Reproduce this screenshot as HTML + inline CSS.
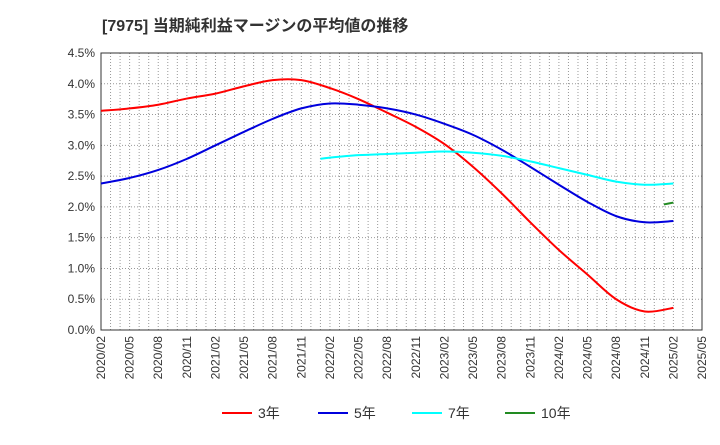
<!DOCTYPE html>
<html><head><meta charset="utf-8"><style>
body{margin:0;background:#fff;font-family:"Liberation Sans","Noto Sans CJK JP",sans-serif}
</style></head><body>
<svg width="720" height="440" xmlns="http://www.w3.org/2000/svg" id="c" style="font-family:'Liberation Sans','Noto Sans CJK JP',sans-serif">
<text x="102" y="31" font-size="16" font-weight="bold" fill="#333">[7975]  当期純利益マージンの平均値の推移</text>
</svg>
<script>
const xLabels=["2020/02","2020/05","2020/08","2020/11","2021/02","2021/05","2021/08","2021/11","2022/02","2022/05","2022/08","2022/11","2023/02","2023/05","2023/08","2023/11","2024/02","2024/05","2024/08","2024/11","2025/02","2025/05"];
const yTicks=[0,0.5,1,1.5,2,2.5,3,3.5,4,4.5];
const q=[0,3,6,9,12,15,18,21,24,27,30,33,36,39,42,45,48,51,54,57,60];
const s3=[3.56,3.60,3.66,3.76,3.84,3.96,4.06,4.06,3.93,3.75,3.53,3.30,3.02,2.65,2.22,1.75,1.30,0.90,0.50,0.30,0.36];
const s5=[2.38,2.47,2.60,2.78,3.00,3.22,3.43,3.60,3.68,3.66,3.60,3.50,3.35,3.17,2.93,2.65,2.36,2.08,1.85,1.75,1.77];
const m7=[23,24,27,30,33,36,39,42,45,48,51,54,57,60];
const s7=[2.78,2.80,2.84,2.86,2.88,2.90,2.88,2.83,2.74,2.63,2.52,2.41,2.36,2.38];
const m10=[59,60];
const s10=[2.04,2.07];
const L=101,R=702,T=53,B=330;
const X=m=>L+m*(R-L)/63, Y=v=>B-v/4.5*(B-T);
const svg=document.getElementById('c'),NS="http://www.w3.org/2000/svg";
function mk(t,a,txt){const e=document.createElementNS(NS,t);for(const k in a)e.setAttribute(k,a[k]);if(txt!=null)e.textContent=txt;svg.appendChild(e);return e;}
for(let m=1;m<63;m++){const e=mk('line',{x1:X(m),x2:X(m),y1:T,y2:B,stroke:'#999','stroke-dasharray':'1,2','stroke-width':1});

}
yTicks.forEach(v=>{const e=mk('line',{x1:L,x2:R,y1:Y(v),y2:Y(v),stroke:'#999','stroke-dasharray':'1,2'});


const t=mk('text',{x:L-6,y:Y(v)+4,'text-anchor':'end','font-size':12,fill:'#333'},v.toFixed(1)+'%');

});
const fr=mk('rect',{x:L,y:T,width:R-L,height:B-T,fill:'none',stroke:'#333'});


xLabels.forEach((l,i)=>{const x=X(i*3)+4,y=B+6;const t=mk('text',{x:x,y:y,'text-anchor':'end','font-size':12,fill:'#333',transform:`rotate(-90 ${x} ${y})`},l);

});
function path(ms,vs){const p=ms.map((m,i)=>[X(m),Y(vs[i])]);let d=`M${p[0][0]},${p[0][1]}`;
for(let i=0;i<p.length-1;i++){const p0=p[i-1]||p[i],p1=p[i],p2=p[i+1],p3=p[i+2]||p2;
d+=` C${p1[0]+(p2[0]-p0[0])/6},${p1[1]+(p2[1]-p0[1])/6} ${p2[0]-(p3[0]-p1[0])/6},${p2[1]-(p3[1]-p1[1])/6} ${p2[0]},${p2[1]}`;}return d;}
[[q,s3,'#ff0000','series-3y'],[q,s5,'#0000dd','series-5y'],[m7,s7,'#00ffff','series-7y'],[m10,s10,'#228b22','series-10y']].forEach(([m,v,c,n])=>{
const e=mk('path',{d:path(m,v),fill:'none',stroke:c,'stroke-width':2});

});
[['3年','#ff0000',222],['5年','#0000dd',318],['7年','#00ffff',412],['10年','#228b22',505]].forEach(([t,c,x])=>{
const l=mk('line',{x1:x,x2:x+30,y1:413,y2:413,stroke:c,'stroke-width':2});


const tx=mk('text',{x:x+36,y:418,'font-size':14,fill:'#333'},t);

});
</script>
</body></html>
